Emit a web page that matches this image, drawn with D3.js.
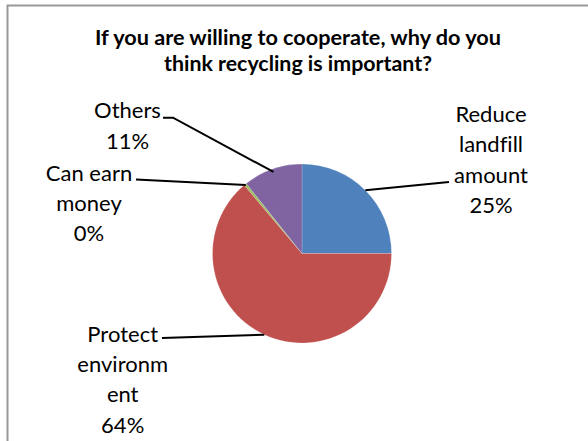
<!DOCTYPE html>
<html><head><meta charset="utf-8">
<script src="https://cdn.jsdelivr.net/npm/d3@7"></script>
<style>html,body{margin:0;padding:0;background:#fff;}svg{display:block;}text{font-variant-ligatures:none;font-feature-settings:"liga" 0;}</style>
</head><body>
<svg id="c" width="588" height="441"></svg>
<script>
const titleLines = ["If you are willing to cooperate, why do you", "think recycling is important?"];
const categories = ["Reduce landfill amount", "Protect environment", "Can earn money", "Others"];
const values = [56, 143, 1, 24];
const colors = ["#4F81BD", "#C0504D", "#9BBB59", "#8064A2"];
const labelLines = [["Reduce", "landfill", "amount"], ["Protect", "environm", "ent"], ["Can earn", "money"], ["Others"]];

const svg = d3.select("#c");
const W = 588, H = 441;
svg.append("rect").attr("x", 7.5).attr("y", 5.5).attr("width", W + 10).attr("height", H + 10)
  .attr("fill", "#fff").attr("stroke", "#999").attr("stroke-width", 2);

const title = svg.append("g").attr("font-family", "Lato, 'Open Sans', sans-serif")
  .attr("font-weight", "bold").attr("font-size", 20).attr("fill", "#000").attr("text-anchor", "middle");
const titleW = [406, 268];
titleLines.forEach((t, i) => {
  title.append("text").attr("x", 298).attr("y", 44.5 + i * 26).text(t)
    .attr("textLength", titleW[i]).attr("lengthAdjust", "spacingAndGlyphs");
});

const cx = 302, cy = 253.5, r = 89.5;
const total = d3.sum(values);
const pie = d3.pie().sort(null).value(d => d)(values);
const arc = d3.arc().innerRadius(0).outerRadius(r);
const g = svg.append("g").attr("transform", `translate(${cx},${cy})`);
g.selectAll("path").data(pie).join("path").attr("d", arc)
  .attr("fill", (d, i) => colors[i]).attr("stroke", "rgba(255,255,255,0.35)").attr("stroke-width", 0.5);

const layout = [
  {x: 491, y: 122, lx: 449, ly: 182, anchorR: 1.0},
  {x: 122.7, y: 341.7, lx: 162, ly: 338, anchorR: 1.0},
  {x: 89, y: 180.7, lx: 136, ly: 179.5, anchorR: 0.99},
  {x: 127.5, y: 118.3, lx: 163, ly: 117.7, anchorR: 0.965, elbow: 173}
];
const lineH = 30.3;
const lab = svg.append("g").attr("font-family", "Lato, 'Open Sans', sans-serif")
  .attr("font-size", 22).attr("fill", "#000").attr("text-anchor", "middle");
pie.forEach((d, i) => {
  const L = layout[i];
  const mid = (d.startAngle + d.endAngle) / 2;
  const px = cx + Math.sin(mid) * r * L.anchorR, py = cy - Math.cos(mid) * r * L.anchorR;
  const pts = [[L.lx, L.ly]];
  if (L.elbow) pts.push([L.elbow, L.ly]);
  pts.push([px, py]);
  svg.append("path").attr("d", d3.line()(pts)).attr("fill", "none")
    .attr("stroke", "#000").attr("stroke-width", 2);
  const lines = labelLines[i].concat([Math.round(d.value / total * 100) + "%"]);
  lines.forEach((t, j) => {
    lab.append("text").attr("x", L.x).attr("y", L.y + j * lineH).text(t);
  });
});
</script>
</body></html>
